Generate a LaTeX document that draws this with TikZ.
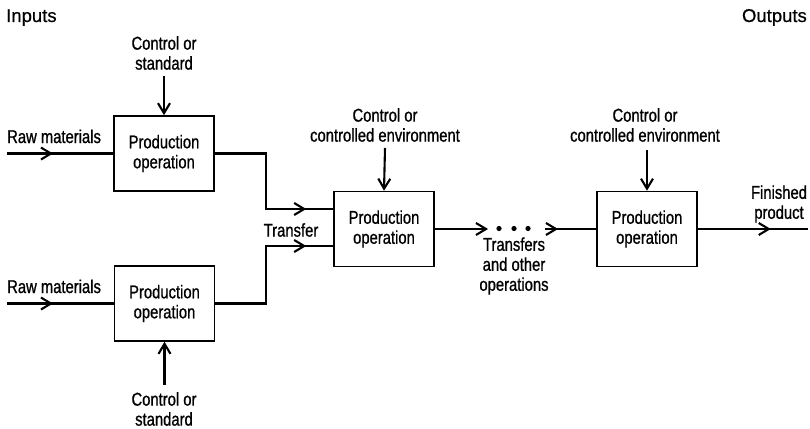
\documentclass[tikz,border=0pt]{standalone}
\usepackage{fontspec}
\setmainfont{Liberation Sans}[FakeStretch=0.8,FakeBold=0.9]
\newfontfamily\headfont{Liberation Sans}[FakeBold=0.6]
\usetikzlibrary{arrows.meta,decorations.markings}
\begin{document}
\begin{tikzpicture}[x=1pt,y=-1pt,
  >={Straight Barb[length=10pt,width=12pt]},
  every node/.style={font=\fontsize{18.5}{20}\selectfont, align=center, inner sep=0pt},
  heading/.style={font=\headfont\fontsize{18.5}{20}\selectfont},
  opbox/.style={draw, line width=1.6pt, minimum width=100pt, minimum height=75pt},
  flow/.style={line width=2.1pt},
  arrowat/.style={postaction={decorate},
    decoration={markings, mark=at position #1 with {\arrow{>}}}},
]
\useasboundingbox (0,0) rectangle (810,428);

% production operations
\node[opbox] (b1) at (164,153.5) {Production\\operation};
\node[opbox] (b2) at (384,229) {Production\\operation};
\node[opbox] (b3) at (647,229) {Production\\operation};
\node[opbox] (b4) at (164.5,303.5) {Production\\operation};

% labels
\node[heading, anchor=base west] (inp) at (6,22) {Inputs};
\node[heading, anchor=base east] (outp) at (807,22) {Outputs};
\node[anchor=base west] (rm1) at (7,143) {Raw materials};
\node[anchor=base west] (rm2) at (7,293) {Raw materials};
\node (c1) at (164,53) {Control or\\standard};
\node (c2) at (385,125) {Control or\\controlled environment};
\node (c3) at (645,125) {Control or\\controlled environment};
\node (c4) at (164,409) {Control or\\standard};
\node (tr) at (291,230) {Transfer};
\node (tro) at (514,266) {Transfers\\and other\\operations};
\node (fp) at (779,204) {Finished\\product};

% free ends of the connectors
\coordinate (s1) at (7,153.5);
\coordinate (s2) at (7,303.5);
\coordinate (k1) at (164,76);
\coordinate (k2) at (385,148);
\coordinate (k3) at (647,150);
\coordinate (k4) at (164.5,385);
\coordinate (d0) at (488,229);
\coordinate (d1) at (545,229);
\coordinate (fin) at (808,229);

% raw materials in
\draw[flow, arrowat=46pt] (s1) -- (b1.west);
\draw[flow, arrowat=46pt] (s2) -- (b4.west);

% controls
\draw[flow,->] (k1) -- (b1.north);
\draw[flow,->] (k4) -- (b4.south);
\draw[flow,->] (k2) -- (b2.north);
\draw[flow,->] (k3) -- (b3.north);

% transfers into the second operation
\draw[flow, arrowat=-27pt] (b1.east) -| ([xshift=-67pt,yshift=20pt]b2.west) -- ([yshift=20pt]b2.west);
\draw[flow, arrowat=-27pt] (b4.east) -| ([xshift=-67pt,yshift=-17pt]b2.west) -- ([yshift=-17pt]b2.west);

% further transfers and the finished product
\draw[flow,->] (b2.east) -- (d0);
\foreach \x in {499,514,528} \fill (\x,228.5) circle (2.6pt);
\draw[flow, arrowat=13pt] (d1) -- (b3.west);
\draw[flow, arrowat=73pt] (b3.east) -- (fin);
\end{tikzpicture}
\end{document}
